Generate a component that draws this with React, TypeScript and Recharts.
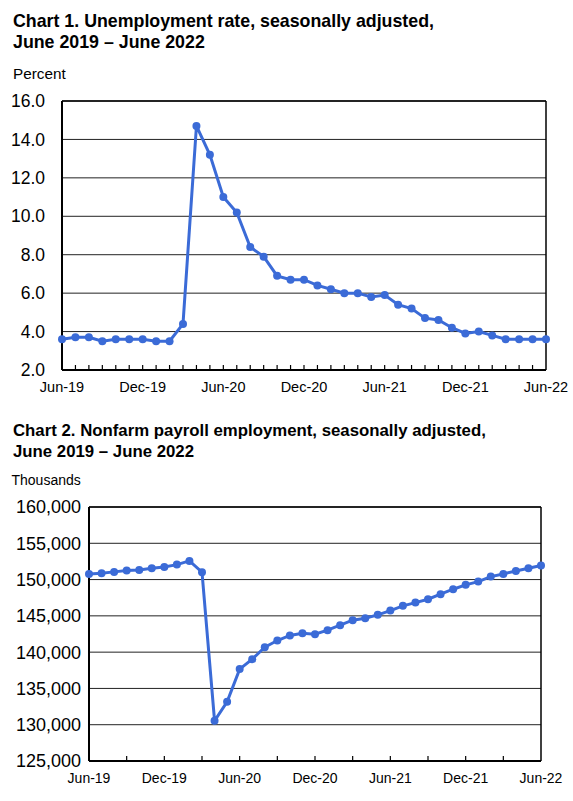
import React from "react";
import { LineChart, Line, XAxis, YAxis, CartesianGrid, ReferenceLine } from "recharts";

// Months Jun-19 .. Jun-22
const MONTHS = [
  "Jun-19", "Jul-19", "Aug-19", "Sep-19", "Oct-19", "Nov-19", "Dec-19",
  "Jan-20", "Feb-20", "Mar-20", "Apr-20", "May-20", "Jun-20", "Jul-20",
  "Aug-20", "Sep-20", "Oct-20", "Nov-20", "Dec-20", "Jan-21", "Feb-21",
  "Mar-21", "Apr-21", "May-21", "Jun-21", "Jul-21", "Aug-21", "Sep-21",
  "Oct-21", "Nov-21", "Dec-21", "Jan-22", "Feb-22", "Mar-22", "Apr-22",
  "May-22", "Jun-22",
];

// Chart 1: unemployment rate, percent
const UNEMPLOYMENT = [
  3.6, 3.7, 3.7, 3.5, 3.6, 3.6, 3.6, 3.5, 3.5, 4.4, 14.7, 13.2, 11.0, 10.2,
  8.4, 7.9, 6.9, 6.7, 6.7, 6.4, 6.2, 6.0, 6.0, 5.8, 5.9, 5.4, 5.2, 4.7,
  4.6, 4.2, 3.9, 4.0, 3.8, 3.6, 3.6, 3.6, 3.6,
];

// Chart 2: nonfarm payroll employment, thousands
const PAYROLL = [
  150780, 150870, 151060, 151240, 151330, 151560, 151740, 152060, 152570,
  151010, 130550, 133160, 137660, 139030, 140690, 141600, 142300, 142610,
  142480, 143030, 143720, 144400, 144680, 145140, 145730, 146380, 146830,
  147290, 147980, 148670, 149270, 149720, 150410, 150780, 151190, 151560,
  151930,
];

const UNEMP_TICKS = [2, 4, 6, 8, 10, 12, 14, 16];
const PAYROLL_TICKS = [125000, 130000, 135000, 140000, 145000, 150000, 155000, 160000];

const BLUE = "#3B6BD7";
const FONT = "'Liberation Sans', Arial, sans-serif";

const unempData = MONTHS.map((m, i) => ({ month: m, value: UNEMPLOYMENT[i] }));
const payrollData = MONTHS.map((m, i) => ({ month: m, value: PAYROLL[i] }));

// inward tick marks, labels only every 6 months
function makeTick(markEvery: number, fontSize: number) {
  return (props: any) => {
    const { x, y, payload, index } = props;
    const i = index ?? 0;
    return (
      <g>
        {i % markEvery === 0 && i !== 0 && i !== MONTHS.length - 1 && (
          <line x1={x} x2={x} y1={y} y2={y - 5} stroke="#000" strokeWidth={1.2} />
        )}
        {i % 6 === 0 && (
          <text
            x={x}
            y={y + 17}
            textAnchor="middle"
            dominantBaseline="central"
            fontSize={fontSize}
            fontFamily={FONT}
            fill="#000"
          >
            {payload.value}
          </text>
        )}
      </g>
    );
  };
}

const titleStyle: React.CSSProperties = {
  position: "absolute",
  left: 13,
  fontFamily: FONT,
  fontWeight: "bold",
  lineHeight: "20.5px",
  color: "#000",
  whiteSpace: "pre",
};

const unitStyle: React.CSSProperties = {
  position: "absolute",
  fontFamily: FONT,
  lineHeight: "16px",
  color: "#000",
};

export default function App() {
  return (
    <div style={{ position: "absolute", left: 0, top: 0, width: 573, height: 801, background: "#fff" }}>
      <div style={{ ...titleStyle, top: 11.4, fontSize: 17.8 }}>
        {"Chart 1. Unemployment rate, seasonally adjusted,\nJune 2019 \u2013 June 2022"}
      </div>
      <div style={{ ...unitStyle, left: 13, top: 66, fontSize: 15.3 }}>Percent</div>

      <div style={{ position: "absolute", left: 0, top: 0 }}>
        <LineChart width={573} height={400} data={unempData} margin={{ top: 101, right: 27, bottom: 0, left: 0 }}>
          <CartesianGrid vertical={false} stroke="#222" strokeWidth={1} />
          <XAxis
            dataKey="month"
            interval={0}
            height={30}
            tickSize={0}
            tickMargin={0}
            tickLine={false}
            axisLine={{ stroke: "#000", strokeWidth: 2 }}
            tick={makeTick(1, 14.5)}
          />
          <YAxis
            width={62}
            domain={[2, 16]}
            ticks={UNEMP_TICKS}
            interval={0}
            tickSize={0}
            tickMargin={17}
            tickLine={false}
            axisLine={{ stroke: "#000", strokeWidth: 2 }}
            tickFormatter={(v: number) => v.toFixed(1)}
            tick={{ fill: "#000", fontSize: 17.5, fontFamily: FONT }}
          />
          <ReferenceLine x={MONTHS[MONTHS.length - 1]} stroke="#000" strokeWidth={1.5} />
          <ReferenceLine y={16} stroke="#000" strokeWidth={1.5} />
          <Line
            type="linear"
            dataKey="value"
            stroke={BLUE}
            strokeWidth={3}
            dot={{ r: 4, fill: BLUE, stroke: "none" }}
            isAnimationActive={false}
          />
        </LineChart>
      </div>

      <div style={{ ...titleStyle, top: 421.3, fontSize: 16.8 }}>
        {"Chart 2. Nonfarm payroll employment, seasonally adjusted,\nJune 2019 \u2013 June 2022"}
      </div>
      <div style={{ ...unitStyle, left: 11.5, top: 472.4, fontSize: 14 }}>Thousands</div>

      <div style={{ position: "absolute", left: 0, top: 420 }}>
        <LineChart width={573} height={381} data={payrollData} margin={{ top: 87, right: 32, bottom: 0, left: 0 }}>
          <CartesianGrid vertical={false} stroke="#222" strokeWidth={1} />
          <XAxis
            dataKey="month"
            interval={0}
            height={40}
            tickSize={0}
            tickMargin={0}
            tickLine={false}
            axisLine={{ stroke: "#000", strokeWidth: 2 }}
            tick={makeTick(3, 14)}
          />
          <YAxis
            width={89}
            domain={[125000, 160000]}
            ticks={PAYROLL_TICKS}
            interval={0}
            tickSize={0}
            tickMargin={8}
            tickLine={false}
            axisLine={{ stroke: "#000", strokeWidth: 2 }}
            tickFormatter={(v: number) => v.toLocaleString("en-US")}
            tick={{ fill: "#000", fontSize: 18, fontFamily: FONT }}
          />
          <ReferenceLine x={MONTHS[MONTHS.length - 1]} stroke="#000" strokeWidth={1.5} />
          <ReferenceLine y={160000} stroke="#000" strokeWidth={1.5} />
          <Line
            type="linear"
            dataKey="value"
            stroke={BLUE}
            strokeWidth={3}
            dot={{ r: 4, fill: BLUE, stroke: "none" }}
            isAnimationActive={false}
          />
        </LineChart>
      </div>
    </div>
  );
}
